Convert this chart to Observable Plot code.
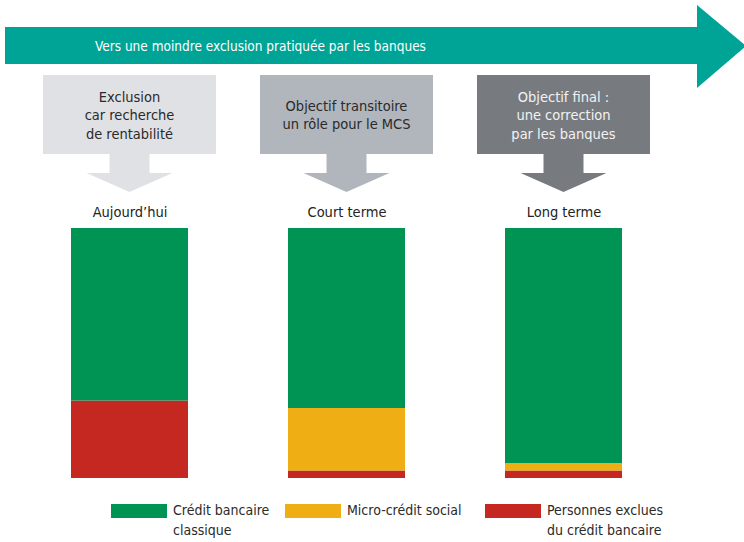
<!DOCTYPE html>
<html>
<head>
<meta charset="utf-8">
<script src="https://cdn.jsdelivr.net/npm/d3@7"></script>
<script src="https://cdn.jsdelivr.net/npm/@observablehq/plot@0.6"></script>
<style>
  html, body { margin: 0; padding: 0; background: #fff; }
  svg text { font-family: "Liberation Sans Narrow", "Arial Narrow", "DejaVu Sans Condensed", sans-serif; }
</style>
</head>
<body>
<div id="chart"></div>
<script>
// ---- data ----
const categories = ["Aujourd’hui", "Court terme", "Long terme"];
const series = ["Personnes exclues du crédit bancaire", "Micro-crédit social", "Crédit bancaire classique"];
const exclues = [31, 3, 3];
const microCredit = [0, 25, 3];
const creditClassique = [69, 72, 94];
const boxTexts = [
  ["Exclusion", "car recherche", "de rentabilité"],
  ["Objectif transitoire", "un rôle pour le MCS"],
  ["Objectif final :", "une correction", "par les banques"]
];
const arrowTitle = "Vers une moindre exclusion pratiquée par les banques";
const legendLabels = [
  ["Crédit bancaire", "classique"],
  ["Micro-crédit social"],
  ["Personnes exclues", "du crédit bancaire"]
];

const colors = {
  "Crédit bancaire classique": "#009454",
  "Micro-crédit social": "#EFAE14",
  "Personnes exclues du crédit bancaire": "#C52820"
};

const rows = [];
categories.forEach((c, i) => {
  rows.push({cat: c, serie: series[0], value: exclues[i]});
  rows.push({cat: c, serie: series[1], value: microCredit[i]});
  rows.push({cat: c, serie: series[2], value: creditClassique[i]});
});

const W = 744, H = 542;
const plot = Plot.plot({
  width: W,
  height: H,
  marginTop: 228,
  marginBottom: 64,
  marginLeft: 70,
  marginRight: W - 623,
  x: {domain: categories, paddingInner: 0.46, paddingOuter: 0, axis: null},
  y: {domain: [0, 100], axis: null},
  color: {domain: Object.keys(colors), range: Object.values(colors)},
  style: {fontFamily: "'Liberation Sans Narrow', 'Arial Narrow', 'DejaVu Sans Condensed', sans-serif", background: "#fff"},
  marks: [
    Plot.barY(rows, {x: "cat", y: "value", fill: "serie", order: null}),
    Plot.text(categories, {x: d => d, y: 100, dy: -16, text: d => d, fontSize: 14.5, fill: "#222"})
  ]
});

document.getElementById("chart").appendChild(plot);

// ---- decorations (positions derived from the x scale) ----
const svg = d3.select(plot);
const xs = plot.scale("x");
const bw = xs.bandwidth;
const centers = categories.map(c => xs.apply(c) + bw / 2);
const deco = svg.insert("g", ":first-child");

// teal arrow
deco.append("path")
  .attr("d", "M5,27 L697,27 L697,5 L746,46 L697,88 L697,64 L5,64 Z")
  .attr("fill", "#00A496");
deco.append("text")
  .attr("x", 95).attr("y", 46)
  .attr("text-anchor", "start")
  .attr("dominant-baseline", "central")
  .attr("font-size", 13.5)
  .attr("fill", "#fff")
  .text(arrowTitle);

const boxFills = ["#E0E1E4", "#B1B5BC", "#777B80"];
const boxTextFill = ["#2a2a2a", "#2a2a2a", "#f2f2f2"];
centers.forEach((cx, i) => {
  const g = deco.append("g");
  g.append("rect").attr("x", cx - 86.5).attr("y", 75).attr("width", 173).attr("height", 79).attr("fill", boxFills[i]);
  g.append("path")
    .attr("d", `M${cx - 20},153 L${cx + 20},153 L${cx + 20},173 L${cx + 43},173 L${cx},192 L${cx - 43},173 L${cx - 20},173 Z`)
    .attr("fill", boxFills[i]);
  const lines = boxTexts[i];
  const lh = 18.5;
  const mid = 115;
  lines.forEach((t, j) => {
    g.append("text")
      .attr("x", cx).attr("y", mid + (j - (lines.length - 1) / 2) * lh)
      .attr("text-anchor", "middle").attr("dominant-baseline", "central")
      .attr("font-size", 14.5).attr("fill", boxTextFill[i])
      .text(t);
  });
});

// legend
const legendX = [111, 285, 485];
const legendSeries = ["Crédit bancaire classique", "Micro-crédit social", "Personnes exclues du crédit bancaire"];
const lg = svg.append("g");
legendSeries.forEach((s, i) => {
  lg.append("rect").attr("x", legendX[i]).attr("y", 504).attr("width", 56).attr("height", 14).attr("fill", colors[s]);
  legendLabels[i].forEach((t, j) => {
    lg.append("text")
      .attr("x", legendX[i] + 62).attr("y", 510 + j * 20)
      .attr("text-anchor", "start")
      .attr("dominant-baseline", "central")
      .attr("font-size", 14).attr("fill", "#2a2a2a")
      .text(t);
  });
});
</script>
</body>
</html>
